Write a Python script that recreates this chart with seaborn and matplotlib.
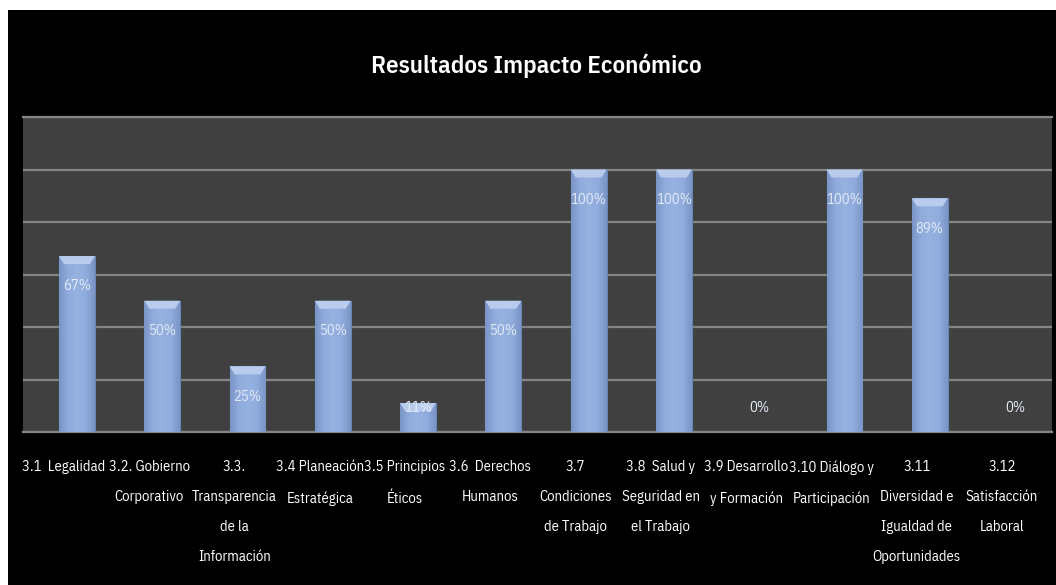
import numpy as np
import pandas as pd
import matplotlib
matplotlib.use("Agg")
import matplotlib.pyplot as plt
import matplotlib.transforms as mtransforms
from matplotlib.patches import Rectangle, Polygon
from matplotlib.colors import LinearSegmentedColormap
import seaborn as sns

# --- data ---------------------------------------------------------------
categories = [
    "3.1  Legalidad",
    "3.2. Gobierno\nCorporativo",
    "3.3.\nTransparencia\nde la\nInformación",
    "3.4 Planeación\nEstratégica",
    "3.5 Principios\nÉticos",
    "3.6  Derechos\nHumanos",
    "3.7\nCondiciones\nde Trabajo",
    "3.8  Salud y\nSeguridad en\nel Trabajo",
    "3.9 Desarrollo\ny Formación",
    "3.10 Diálogo y\nParticipación",
    "3.11\nDiversidad e\nIgualdad de\nOportunidades",
    "3.12\nSatisfacción\nLaboral",
]
values = [67, 50, 25, 50, 11, 50, 100, 100, 0, 100, 89, 0]
title = "Resultados Impacto Económico"

# --- style --------------------------------------------------------------
sns.set_theme(style="dark")
plt.rcParams["font.family"] = ["IBM Plex Sans Condensed", "DejaVu Sans"]

W, H = 1056, 585
fig = plt.figure(figsize=(W / 100, H / 100), dpi=100, facecolor="white")
fig.add_artist(Rectangle((8 / W, 0), 1, (H - 10) / H, transform=fig.transFigure,
                         facecolor="black", edgecolor="none", zorder=-10))

ax = fig.add_axes([23 / W, (H - 432) / H, (1052 - 23) / W, (432 - 117) / H])
ax.set_facecolor("#404040")

df = pd.DataFrame({"categoria": categories, "valor": values})
sns.barplot(data=df, x="categoria", y="valor", ax=ax, width=0.42,
            color="#8EAADB", saturation=1, edgecolor="#6A84B3", linewidth=0.8,
            zorder=3)

ax.set_yticks(np.arange(0, 121, 20))
ax.set_yticklabels([])
ax.yaxis.grid(True, color="#858585", linewidth=1.6)
ax.xaxis.grid(False)
for side in ["left", "right"]:
    ax.spines[side].set_visible(False)
for side in ["top", "bottom"]:
    ax.spines[side].set_visible(True)
    ax.spines[side].set_color("#858585")
    ax.spines[side].set_linewidth(1.6)
ax.set_xlabel("")
ax.set_ylabel("")

# shaded bar faces with a light bevel on top
shade = LinearSegmentedColormap.from_list(
    "barshade", ["#7A95C6", "#90ACDD", "#96B2E1", "#90ACDD", "#7A95C6"])
grad = np.linspace(0, 1, 64).reshape(1, -1)
px_per_unit = (432 - 117) / 120.0
for patch, v in zip(ax.patches, values):
    x0, w = patch.get_x(), patch.get_width()
    if v <= 0:
        continue
    im = ax.imshow(grad, cmap=shade, extent=(x0, x0 + w, 0, v), aspect="auto",
                   origin="lower", zorder=3.5)
    im.set_clip_path(patch)
    bh = 8 / px_per_unit
    inset = w * 0.14
    ax.add_patch(Polygon([(x0, v), (x0 + w, v), (x0 + w - inset, v - bh),
                          (x0 + inset, v - bh)], closed=True,
                         facecolor="#B9CCEE", edgecolor="none", zorder=3.6))
ax.set_xlim(-0.633, 11.434)
ax.set_ylim(0, 120)

# value labels
for i, v in enumerate(values):
    ax.text(i, max(v - 11.5, 9), f"{v}%", ha="center", va="center",
            color="#E2EAF6", fontsize=10.5, zorder=5)

# category labels
ax.tick_params(axis="x", length=0, pad=20, labelsize=10.5, colors="white")
ax.tick_params(axis="y", length=0)
shift = mtransforms.ScaledTranslation(-13 / 100, 0, fig.dpi_scale_trans)
for lab in ax.get_xticklabels():
    lab.set_transform(lab.get_transform() + shift)
    lab.set_linespacing(2.45)
    lab.set_verticalalignment("top")

fig.text(536 / W, 1 - 73 / H, title, ha="center", va="baseline",
         fontsize=18, fontweight="semibold", color="white")

fig.savefig("out.png", dpi=100, facecolor=fig.get_facecolor())
